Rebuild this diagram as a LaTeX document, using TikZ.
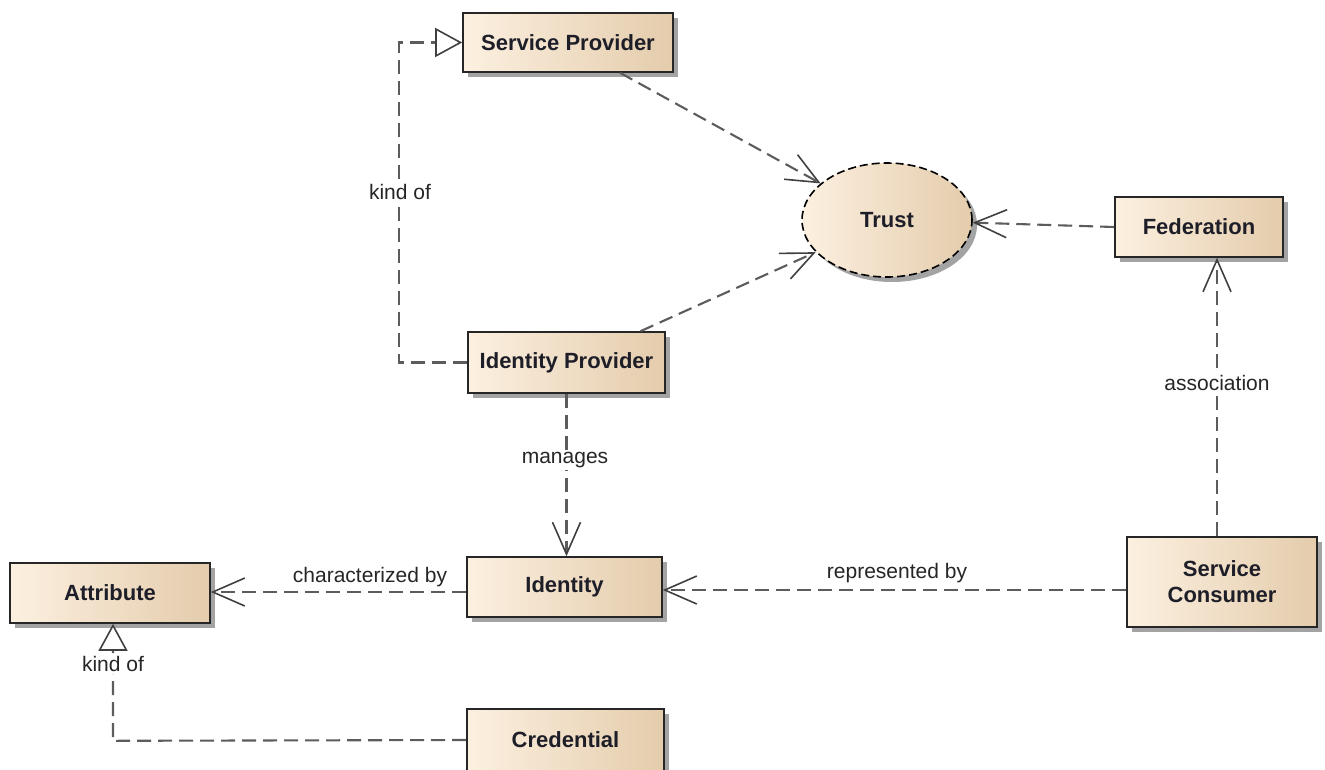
\documentclass[tikz,border=0pt]{standalone}
\usepackage{fontspec}
\setmainfont{Liberation Sans}
\usetikzlibrary{arrows.meta,shapes.geometric,shadows,calc}
\definecolor{boxl}{HTML}{FCF0E0}
\definecolor{boxr}{HTML}{E4CCAC}
\definecolor{linec}{HTML}{5C5C5C}
\definecolor{txt}{HTML}{1E1E28}
\begin{document}
\begin{tikzpicture}[x=1pt,y=-1pt,
  shadowed/.style={drop shadow={shadow xshift=5pt,shadow yshift=-5pt,fill=black!60,opacity=0.6}},
  cls/.style={draw=black!85,line width=1.6pt,left color=boxl,right color=boxr,shadowed,
    minimum width=#1,inner sep=2pt,font=\fontsize{22}{26}\selectfont\bfseries,text=txt,align=center},
  lbl/.style={font=\fontsize{21}{24}\selectfont,text=black!85,inner sep=2pt},
  dep/.style={draw=linec,line width=2.1pt,dash pattern=on 14pt off 7pt,
    -{Straight Barb[length=32pt,width=28pt,line width=1.6pt,color=black!75]}},
  gen/.style={draw=linec,line width=2.1pt,dash pattern=on 14pt off 7pt,
    -{Triangle[open,length=27pt,width=29pt,line width=1.6pt,fill=white,color=black!75]}}]
\useasboundingbox (0,0) rectangle (1325,769);

\node[cls=210pt,minimum height=59pt] (sp) at (568,42.5) {Service Provider};
\node[ellipse,draw=black,line width=1.6pt,dash pattern=on 8pt off 4pt,left color=boxl,right color=boxr,
  shadowed,minimum width=170pt,minimum height=114pt,font=\fontsize{22}{26}\selectfont\bfseries,text=txt] (trust) at (887,220) {Trust};
\node[cls=168pt,minimum height=60pt] (fed) at (1199,227) {Federation};
\node[cls=197pt,minimum height=61pt] (idp) at (566.5,362.5) {Identity Provider};
\node[cls=195pt,minimum height=60pt] (id) at (564.5,587) {Identity};
\node[cls=200pt,minimum height=60pt] (attr) at (110,593) {Attribute};
\node[cls=197pt,minimum height=62pt] (cred) at (565.5,740) {Credential};
\node[cls=190pt,minimum height=90pt] (sc) at (1222,582) {Service\\Consumer};

% generalization IdP -> SP
\coordinate (k1) at ($(idp.west)+(-68,0)$);
\draw[gen] (idp.west) -- (k1) |- (sp.west);
\node[lbl,fill=white] (l1) at (400,192) {kind of};

% dependencies to Trust
\coordinate (s1) at ($(sp.south)+(52,0)$);
\draw[dep] (s1) -- (trust);
\coordinate (s2) at ($(idp.north)+(74,0)$);
\draw[dep] (s2) -- (trust);
\draw[dep] (fed.west) -- (trust);

% association
\coordinate (s3) at ($(sc.north)+(-5,0)$);
\draw[dep] (s3) -- (s3 |- fed.south);
\node[lbl,fill=white] (l2) at (1217,383) {association};

% manages
\draw[dep] (idp.south) -- (idp.south |- id.north);
\node[lbl,fill=white] (l3) at (565,460) {manages};

% characterized by
\coordinate (s4) at ($(id.west)+(0,5)$);
\draw[dep] (s4) -- (s4 -| attr.east);
\node[lbl] (l4) at (370,577) {characterized by};

% represented by
\coordinate (s5) at ($(sc.west)+(0,8)$);
\draw[dep] (s5) -- (s5 -| id.east);
\node[lbl] (l5) at (897,573) {represented by};

% generalization Credential -> Attribute
\coordinate (k2) at ($(attr.south)+(3,117)$);
\draw[gen] (cred.west) -- (k2) -- ($(attr.south)+(3,0)$);
\node[lbl,fill=white] (l6) at (113,664) {kind of};
\end{tikzpicture}
\end{document}
